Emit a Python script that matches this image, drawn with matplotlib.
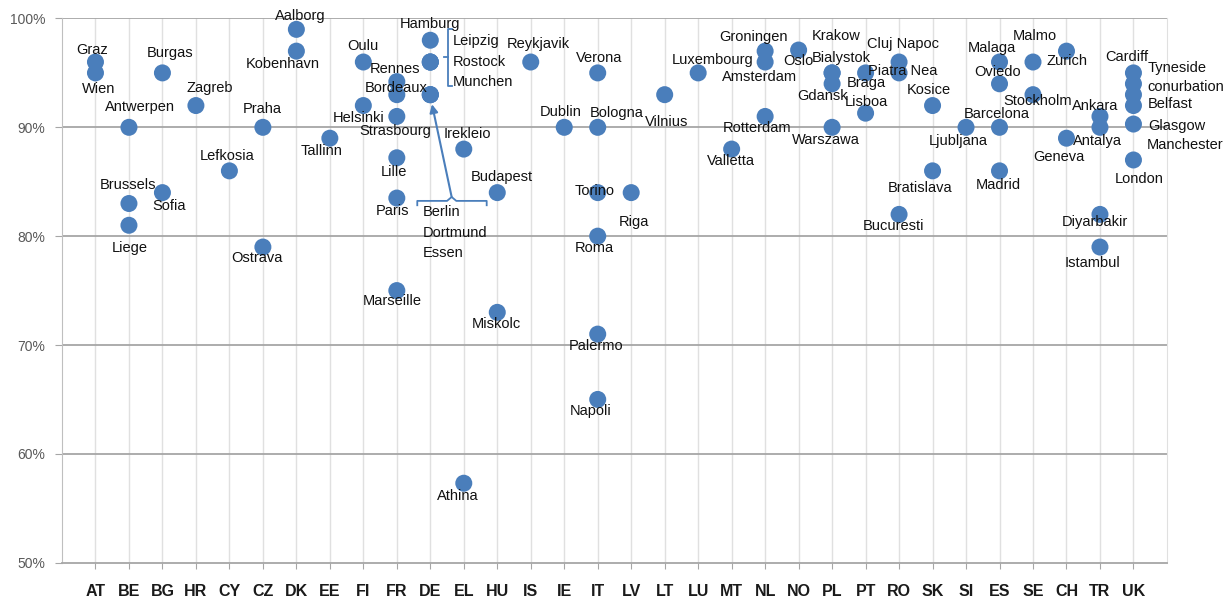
import matplotlib
matplotlib.use('Agg')
import numpy as np
from matplotlib import pyplot as plt
from matplotlib.ticker import FuncFormatter

countries = ['AT', 'BE', 'BG', 'HR', 'CY', 'CZ', 'DK', 'EE', 'FI', 'FR', 'DE', 'EL', 'HU', 'IS', 'IE', 'IT',
             'LV', 'LT', 'LU', 'MT', 'NL', 'NO', 'PL', 'PT', 'RO', 'SK', 'SI', 'ES', 'SE', 'CH', 'TR', 'UK']

# city, country, share (%)
cities = ['Graz', 'Wien', 'Antwerpen', 'Brussels', 'Liege', 'Burgas', 'Sofia', 'Zagreb', 'Lefkosia',
          'Praha', 'Ostrava', 'Aalborg', 'Kobenhavn', 'Tallinn', 'Oulu', 'Helsinki',
          'Rennes', 'Bordeaux', 'Strasbourg', 'Lille', 'Paris', 'Marseille',
          'Hamburg', 'Leipzig', 'Rostock', 'Munchen', 'Berlin', 'Dortmund', 'Essen',
          'Irekleio', 'Athina', 'Budapest', 'Miskolc', 'Reykjavik', 'Dublin',
          'Verona', 'Bologna', 'Torino', 'Roma', 'Palermo', 'Napoli', 'Riga', 'Vilnius',
          'Luxembourg', 'Valletta', 'Groningen', 'Amsterdam', 'Rotterdam', 'Oslo',
          'Krakow', 'Bialystok', 'Gdansk', 'Warszawa', 'Braga', 'Lisboa',
          'Cluj Napoc', 'Piatra Nea', 'Bucuresti', 'Kosice', 'Bratislava', 'Ljubljana',
          'Malaga', 'Oviedo', 'Barcelona', 'Madrid', 'Malmo', 'Stockholm', 'Zurich', 'Geneva',
          'Ankara', 'Antalya', 'Diyarbakir', 'Istambul',
          'Cardiff', 'Tyneside\nconurbation', 'Belfast', 'Glasgow', 'Manchester', 'London']
city_country = ['AT', 'AT', 'BE', 'BE', 'BE', 'BG', 'BG', 'HR', 'CY',
                'CZ', 'CZ', 'DK', 'DK', 'EE', 'FI', 'FI',
                'FR', 'FR', 'FR', 'FR', 'FR', 'FR',
                'DE', 'DE', 'DE', 'DE', 'DE', 'DE', 'DE',
                'EL', 'EL', 'HU', 'HU', 'IS', 'IE',
                'IT', 'IT', 'IT', 'IT', 'IT', 'IT', 'LV', 'LT',
                'LU', 'MT', 'NL', 'NL', 'NL', 'NO',
                'PL', 'PL', 'PL', 'PL', 'PT', 'PT',
                'RO', 'RO', 'RO', 'SK', 'SK', 'SI',
                'ES', 'ES', 'ES', 'ES', 'SE', 'SE', 'CH', 'CH',
                'TR', 'TR', 'TR', 'TR',
                'UK', 'UK', 'UK', 'UK', 'UK', 'UK']
values = [96, 95, 90, 83, 81, 95, 84, 92, 86,
          90, 79, 99, 97, 89, 96, 92,
          94.2, 93, 91, 87.2, 83.5, 75,
          98, 96, 96, 96, 93, 93, 93,
          88, 57.3, 84, 73, 96, 90,
          95, 90, 84, 80, 71, 65, 84, 93,
          95, 88, 97, 96, 91, 97.1,
          95, 95, 94, 90, 95, 91.3,
          96, 95, 82, 92, 86, 90,
          96, 94, 90, 86, 96, 93, 97, 89,
          91, 90, 82, 79,
          95, 94, 93, 92, 90.3, 87]

# label offsets in pixels (dx, dy, ha)
lab = {
    'Graz': (-3, 12), 'Wien': (3, -16), 'Antwerpen': (11, 20), 'Brussels': (-1, 19), 'Liege': (1, -23),
    'Burgas': (8, 20), 'Sofia': (7, -13), 'Zagreb': (14, 18), 'Lefkosia': (-2, 15), 'Praha': (-1, 18),
    'Ostrava': (-6, -11), 'Aalborg': (4, 13), 'Kobenhavn': (-14, -13), 'Tallinn': (-8, -13),
    'Oulu': (0, 16), 'Helsinki': (-5, -12), 'Rennes': (-2, 13), 'Bordeaux': (-1, 7),
    'Strasbourg': (-2, -15), 'Lille': (-3, -14), 'Paris': (-4, -13), 'Marseille': (-5, -10),
    'Hamburg': (0, 16), 'Leipzig': (22, 21, 'left'), 'Rostock': (22, 0, 'left'), 'Munchen': (22, -20, 'left'),
    'Berlin': (-8, -117, 'left'), 'Dortmund': (-8, -138, 'left'), 'Essen': (-8, -158.5, 'left'),
    'Irekleio': (4, 15), 'Athina': (-6, -13), 'Budapest': (5, 16), 'Miskolc': (-1, -12),
    'Reykjavik': (8, 18), 'Dublin': (-4, 15), 'Verona': (1, 15), 'Bologna': (19, 14), 'Torino': (-3, 2),
    'Roma': (-3, -12), 'Palermo': (-2, -12), 'Napoli': (-7, -12), 'Riga': (3, -29), 'Vilnius': (2, -27),
    'Luxembourg': (14, 13), 'Valletta': (-1, -12), 'Groningen': (-12, 14), 'Amsterdam': (-6, -15),
    'Rotterdam': (-8, -12), 'Oslo': (0, -11), 'Krakow': (4, 37), 'Bialystok': (9, 15),
    'Gdansk': (-10, -12), 'Warszawa': (-6, -13), 'Braga': (1, -10), 'Lisboa': (1, 11),
    'Cluj Napoc': (4, 18), 'Piatra Nea': (4, 2), 'Bucuresti': (-6, -12), 'Kosice': (-4, 16),
    'Bratislava': (-12, -17), 'Ljubljana': (-8, -14), 'Malaga': (-8, 14), 'Oviedo': (-2, 12),
    'Barcelona': (-3, 13), 'Madrid': (-1, -14), 'Malmo': (2, 26), 'Stockholm': (5, -6),
    'Zurich': (1, -10), 'Geneva': (-8, -19), 'Ankara': (-5, 10), 'Antalya': (-2, -14),
    'Diyarbakir': (-5, -8), 'Istambul': (-7, -16), 'Cardiff': (-7, 16),
    'Tyneside\nconurbation': (14, 6.5, 'left'), 'Belfast': (14, -9.5, 'left'),
    'Glasgow': (15, -20, 'left'), 'Manchester': (13, -21, 'left'), 'London': (6, -19),
}

blue = '#4a7ebb'
plt.rcParams['font.family'] = ['Liberation Sans', 'DejaVu Sans']

fig = plt.figure(figsize=(12.25, 6), dpi=100)
ax = fig.add_axes([0.0506, 0.0622, 0.902, 0.907])

xs = np.array([countries.index(c) for c in city_country])
ys = np.array(values)
ax.scatter(xs, ys, s=150, color=blue, edgecolors='none', zorder=3)

for name, x, y in zip(cities, xs, ys):
    o = lab[name]
    ha = o[2] if len(o) > 2 else 'center'
    ax.annotate(name, (x, y), xytext=(o[0], o[1]), textcoords='offset pixels',
                ha=ha, va='center', fontsize=10.5, color='#111111', zorder=4,
                linespacing=1.45)

# brackets and arrow for the grouped German cities
de = countries.index('DE')
ax.plot([de + 0.647, de + 0.527, de + 0.527, de + 0.647], [99.02, 99.02, 93.78, 93.78],
        color=blue, lw=1.3, zorder=2)
ax.plot([de + 0.527, de + 0.408], [96.44, 96.44], color=blue, lw=1.3, zorder=2)
ax.plot([de - 0.389, de - 0.389, de + 0.5, de + 0.638, de + 0.776, de + 1.684, de + 1.684],
        [82.84, 83.24, 83.24, 83.6, 83.24, 83.24, 82.84], color=blue, lw=1.3, zorder=2)
ax.annotate('', xy=(de + 0.05, 92.12), xytext=(de + 0.638, 83.6),
            arrowprops=dict(arrowstyle='-|>', color=blue, lw=1.5, shrinkA=0, shrinkB=0,
                            mutation_scale=12), zorder=2)

ax.set_xlim(-1, 32)
ax.set_ylim(50, 100)
ax.set_xticks(range(len(countries)))
ax.set_xticklabels(countries, fontweight='bold', fontsize=11.5, color='#1a1a1a')
ax.set_yticks([50, 60, 70, 80, 90, 100])
ax.yaxis.set_major_formatter(FuncFormatter(lambda v, p: '%d%%' % v))
ax.tick_params(axis='y', labelsize=10, labelcolor='#595959', length=5, color='#a6a6a6', pad=7)
ax.tick_params(axis='x', length=4, color='#a6a6a6', pad=11)

for v in [60, 70, 80, 90, 100]:
    ax.axhline(v, color='#a6a6a6', lw=1.3, zorder=1)
ax.grid(axis='x', color='#e0e0e0', lw=1, zorder=0)
ax.set_axisbelow(True)
ax.spines['top'].set_visible(False)
ax.spines['left'].set_color('#bfbfbf')
ax.spines['right'].set_color('#e0e0e0')
ax.spines['bottom'].set_color('#a6a6a6')
ax.spines['bottom'].set_linewidth(1.3)

plt.savefig('out.png', dpi=100)
